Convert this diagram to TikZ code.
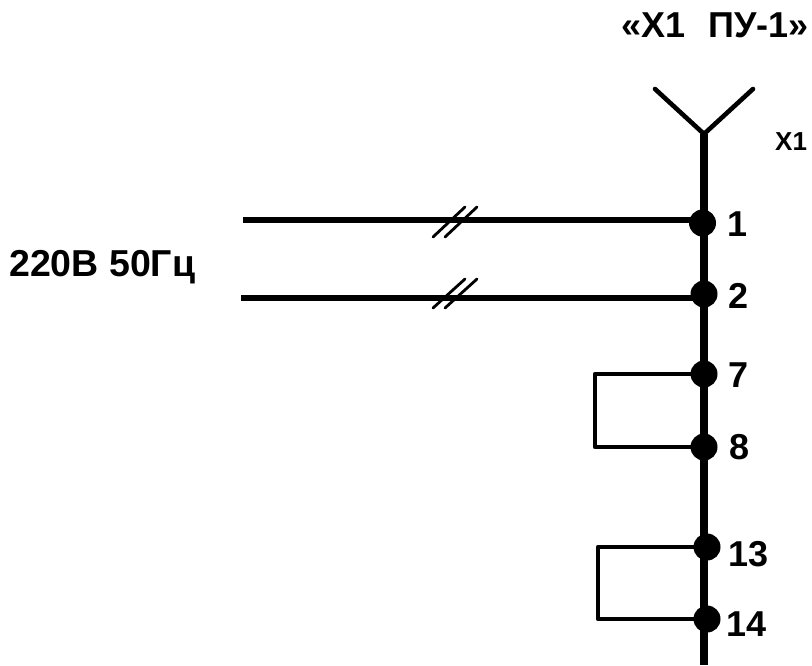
\documentclass[tikz,border=0pt]{standalone}
\usepackage{fontspec}
\setmainfont{Liberation Sans}
\tikzset{
 bus/.style={line width=8pt},
 wire/.style={line width=6pt},
 loopwire/.style={line width=4.6pt,line join=round},
 tick/.style={line width=2.8pt,line cap=round},
 pin/.style={circle,fill=black,inner sep=0pt,minimum size=27pt},
 lab/.style={font=\bfseries\fontsize{36pt}{38pt}\selectfont,inner sep=0pt,anchor=base west},
}
\begin{document}
\begin{tikzpicture}[x=1pt,y=-1pt]
\useasboundingbox (0,0) rectangle (812,665);
\coordinate (top) at (704,134);
\coordinate (end) at (704,665);
\coordinate (yl) at (655,89);
\coordinate (yr) at (753,89);
\node[pin] (p1) at (702.5,223) {};
\node[pin] (p2) at (704,294) {};
\node[pin] (p7) at (704,374) {};
\node[pin] (p8) at (704,447) {};
\node[pin] (p13) at (707,547) {};
\node[pin] (p14) at (707,619) {};
\draw[bus] (top) -- (end);
\draw[loopwire,line cap=round] (yl) -- (top) -- (yr);
\coordinate (w1) at (243,220);
\coordinate (w2) at (241,298);
\draw[wire] (w1) -- (w1-|p1);
\draw[wire] (w2) -- (w2-|p2);
\coordinate (t1a) at (433,237);\coordinate (t1b) at (465,207);
\coordinate (t1c) at (445,237);\coordinate (t1d) at (477,207);
\draw[tick] (t1a)--(t1b) (t1c)--(t1d);
\coordinate (t2a) at (433,308);\coordinate (t2b) at (465,279);
\coordinate (t2c) at (445,308);\coordinate (t2d) at (477,279);
\draw[tick] (t2a)--(t2b) (t2c)--(t2d);
\coordinate (l1) at (595,374);\coordinate (l2) at (595,447);
\draw[loopwire] (p7.center) -- (l1) -- (l2) -- (p8.center);
\coordinate (l3) at (598,547);\coordinate (l4) at (598,619);
\draw[loopwire] (p13.center) -- (l3) -- (l4) -- (p14.center);
\node[lab] (n1) at (727,236) {1};
\node[lab] (n2) at (728,308) {2};
\node[lab] (n7) at (728,387) {7};
\node[lab] (n8) at (729,459) {8};
\node[lab] (n13) at (728,566) {13};
\node[lab] (n14) at (726,636) {14};
\node[lab] (x1) at (775,150) {\fontsize{26pt}{28pt}\selectfont Х1};
\node[lab] (title) at (621,37) {\fontsize{36pt}{38pt}\selectfont «Х1\hspace{13pt} ПУ-1»};
\node[lab] (pw) at (9,276) {\fontsize{37.5pt}{39pt}\selectfont 220В 50Гц};
\end{tikzpicture}
\end{document}
